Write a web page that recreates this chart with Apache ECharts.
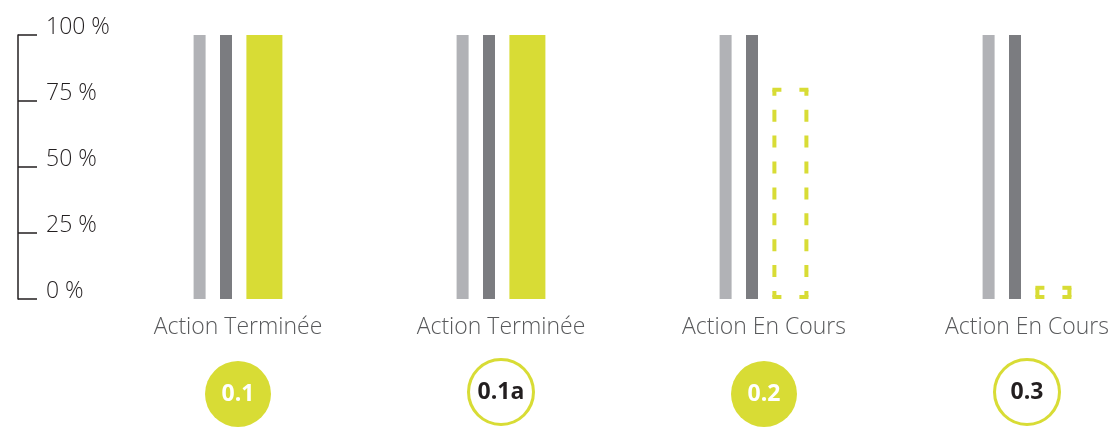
<!DOCTYPE html>
<html>
<head>
<meta charset="utf-8">
<script src="https://cdn.jsdelivr.net/npm/echarts@6/dist/echarts.min.js"></script>
<style>html,body{margin:0;padding:0;background:#fff;}#c{width:1119px;height:428px;}</style>
</head>
<body>
<div id="c"></div>
<script>
const categories = ['Action Terminée', 'Action Terminée', 'Action En Cours', 'Action En Cours'];
const codes = ['0.1', '0.1a', '0.2', '0.3'];
const codeFilled = [true, false, true, false];
const lightGrey = [100, 100, 100, 100];
const darkGrey = [100, 100, 100, 100];
const progress = [100, 100, 80, 5];
const progressDone = [true, true, false, false];
const yTicks = [0, 25, 50, 75, 100];

const FONT = '"Open Sans", "Noto Sans", sans-serif';
const YELLOW = '#d8dc35';
const BAR_W = [12, 12, 36];
const GAP = 1.2;

// offset of the third bar inside the category, same rule as ECharts bar layout
let total = 0;
BAR_W.forEach(function (w) { total += w * (1 + GAP); });
total -= BAR_W[BAR_W.length - 1] * GAP;
const thirdOffset = -total / 2 + (BAR_W[0] + BAR_W[1]) * (1 + GAP);

function dashedLine(x1, y1, x2, y2, endDash, dash) {
  const len = Math.hypot(x2 - x1, y2 - y1);
  const style = {stroke: YELLOW, lineWidth: 4, lineCap: 'butt', fill: null};
  if (len > 2 * endDash + 4) {
    const full = 2 * endDash;
    const n = Math.max(1, Math.round(len / (full + dash)));
    const period = len / n;
    style.lineDash = [full, Math.max(1, period - full)];
    style.lineDashOffset = endDash;
  }
  return {type: 'line', shape: {x1: x1, y1: y1, x2: x2, y2: y2}, style: style};
}

const chart = echarts.init(document.getElementById('c'), null, {renderer: 'canvas'});
chart.setOption({
  animation: false,
  backgroundColor: '#ffffff',
  grid: {left: 238, right: 92, top: 35, bottom: 129, containLabel: false},
  xAxis: {
    type: 'category',
    data: categories,
    boundaryGap: false,
    axisLine: {show: false},
    axisTick: {show: false},
    splitLine: {show: false},
    axisLabel: {
      interval: 0,
      margin: 15,
      formatter: function (v, i) {
        return '{name|' + v + '}\n{sp| }\n{' + (codeFilled[i] ? 'fill' : 'ring') + '|' + codes[i] + '}';
      },
      rich: {
        name: {fontSize: 23, lineHeight: 26, color: '#58595b', fontFamily: FONT, fontWeight: 300},
        sp: {fontSize: 10, lineHeight: 21, height: 21},
        fill: {width: 66, height: 66, lineHeight: 66, borderRadius: 33, backgroundColor: YELLOW,
               color: '#ffffff', fontSize: 23, fontWeight: 'bold', fontFamily: FONT, align: 'center'},
        ring: {width: 62, height: 62, lineHeight: 62, borderRadius: 33, backgroundColor: '#ffffff',
               borderColor: YELLOW, borderWidth: 3, color: '#231f20', fontSize: 23, fontWeight: 'bold',
               fontFamily: FONT, align: 'center'}
      }
    }
  },
  yAxis: {
    type: 'value',
    min: yTicks[0],
    max: yTicks[yTicks.length - 1],
    interval: 25,
    position: 'left',
    offset: 220,
    splitLine: {show: false},
    axisLine: {show: true, lineStyle: {color: '#231f20', width: 1.5}},
    axisTick: {show: true, inside: true, length: 19, lineStyle: {color: '#231f20', width: 1.5}},
    axisLabel: {
      inside: true,
      margin: 28,
      formatter: '{value} %',
      fontSize: 23,
      fontWeight: 300,
      fontFamily: FONT,
      color: '#231f20',
      verticalAlign: 'bottom',
      lineHeight: 15
    }
  },
  series: [
    {type: 'bar', data: lightGrey, barWidth: BAR_W[0], barGap: GAP * 100 + '%', clip: false,
     itemStyle: {color: '#b1b2b6'}, silent: true},
    {type: 'bar', data: darkGrey, barWidth: BAR_W[1], barGap: GAP * 100 + '%', clip: false,
     itemStyle: {color: '#7b7c80'}, silent: true},
    {type: 'bar', barWidth: BAR_W[2], barGap: GAP * 100 + '%', clip: false, silent: true,
     itemStyle: {color: YELLOW},
     data: progress.map(function (v, i) { return progressDone[i] ? v : '-'; })},
    {
      type: 'custom', silent: true, clip: false,
      data: progress.map(function (v, i) { return progressDone[i] ? null : [i, v]; })
                    .filter(function (d) { return d; }),
      encode: {x: 0, y: 1},
      renderItem: function (params, api) {
        const top = api.coord([api.value(0), api.value(1)]);
        const base = api.coord([api.value(0), 0]);
        const x0 = top[0] + thirdOffset + 2, x1 = top[0] + thirdOffset + BAR_W[2] - 2;
        const y0 = top[1] + 2, y1 = base[1] - 2;
        return {
          type: 'group',
          children: [
            dashedLine(x0 - 2, y0, x1 + 2, y0, 9, 18),
            dashedLine(x0 - 2, y1, x1 + 2, y1, 9, 18),
            dashedLine(x0, y0, x0, y1, 6, 15),
            dashedLine(x1, y0, x1, y1, 6, 15)
          ]
        };
      }
    }
  ]
});
</script>
</body>
</html>
